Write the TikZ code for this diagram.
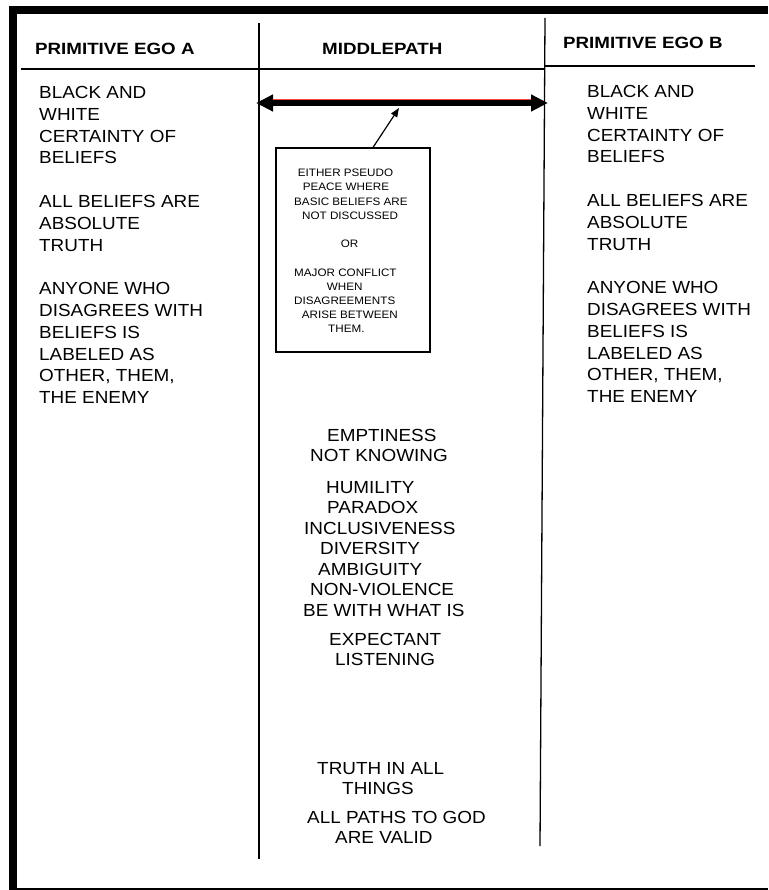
\documentclass[tikz,border=0pt]{standalone}
\usepackage{fontspec}
\usetikzlibrary{arrows.meta}
\newfontfamily\bodyfont{Liberation Sans}[FakeStretch=1.08]
\newfontfamily\headfont{Liberation Sans}[FakeStretch=1.15]
\begin{document}
\begin{tikzpicture}[x=1pt,y=-1pt]
\tikzset{
  colhead/.style={font=\headfont\bfseries\fontsize{16.3}{19}\selectfont, anchor=base west, inner sep=0pt},
  coltext/.style={font=\bodyfont\fontsize{17.5}{21.8}\selectfont, align=left, anchor=north west, inner sep=0pt},
  midtext/.style={font=\bodyfont\fontsize{17.5}{20.5}\selectfont, align=left, anchor=north west, inner sep=0pt},
  boxtext/.style={font=\bodyfont\fontsize{10.8}{14.2}\selectfont, align=left, anchor=north west, inner sep=0pt},
  rule/.style={line width=1.3pt},
  bigarrow/.style={line width=6pt, line join=round, {Triangle[length=17pt,width=16pt]}-{Triangle[length=17pt,width=16pt]}},
  smallarrow/.style={line width=1.2pt, -{Triangle[length=9pt,width=7pt]}},
  notebox/.style={draw, line width=1.1pt, minimum width=154pt, minimum height=204pt, inner sep=0pt},
}
\useasboundingbox (0,0) rectangle (768,890);
\fill[white] (0,0) rectangle (768,890);

% page frame: heavy top and left edges, thin bottom edge
\fill[black] (9,6) rectangle (768,14);
\fill[black] (9,6) rectangle (17,890);
\draw[line width=2pt] (17,888.5) -- (768,888.5);

% column rules
\draw[rule] (21,69) -- (544,69);
\draw[rule] (544,66) -- (755,66);
\draw[rule] (259,23) -- (259,859);
\draw[rule] (545,18) -- (540,846);

% headings
\node[colhead] (hA) at (35,55) {PRIMITIVE EGO A};
\node[colhead] (hM) at (322,55) {MIDDLEPATH};
\node[colhead] (hB) at (563,49) {PRIMITIVE EGO B};

% side columns
\node[coltext] (egoA) at (39,86) {BLACK AND\\WHITE\\CERTAINTY OF\\BELIEFS\\[21.8pt]ALL BELIEFS ARE\\ABSOLUTE\\TRUTH\\[21.8pt]ANYONE WHO\\DISAGREES WITH\\BELIEFS IS\\LABELED AS\\OTHER, THEM,\\THE ENEMY};
\node[coltext] (egoB) at (587,85) {BLACK AND\\WHITE\\CERTAINTY OF\\BELIEFS\\[21.8pt]ALL BELIEFS ARE\\ABSOLUTE\\TRUTH\\[21.8pt]ANYONE WHO\\DISAGREES WITH\\BELIEFS IS\\LABELED AS\\OTHER, THEM,\\THE ENEMY};

% double arrow spanning the middle path
\coordinate (aL) at (256,103);
\coordinate (aR) at (548,103);
\draw[bigarrow] (aL) -- (aR);
\draw[red!75, line width=0.7pt] (273,99.8) -- (531,99.8);

% note box with its pointer
\node[notebox] (box) at (353,250) {};
\coordinate (tip) at (399,108);
\draw[smallarrow] ([xshift=20pt]box.north) -- (tip);
\node[boxtext] (boxtxt) at (294,169) {\hspace*{3.7pt}EITHER PSEUDO\\\hspace*{8.7pt}PEACE WHERE\\BASIC BELIEFS ARE\\\hspace*{8pt}NOT DISCUSSED\\[14.2pt]\hspace*{46.7pt}OR\\[14.2pt]MAJOR CONFLICT\\\hspace*{32.7pt}WHEN\\DISAGREEMENTS\\\hspace*{7.7pt}ARISE BETWEEN\\\hspace*{34pt}THEM.};

% middle path
\node[midtext] (m1) at (303,429) {\hspace*{24pt}EMPTINESS\\\hspace*{7pt}NOT KNOWING};
\node[midtext] (m2) at (303,481) {\hspace*{23pt}HUMILITY\\\hspace*{24pt}PARADOX\\\hspace*{1pt}INCLUSIVENESS\\\hspace*{17pt}DIVERSITY\\\hspace*{15pt}AMBIGUITY\\\hspace*{7pt}NON-VIOLENCE\\BE WITH WHAT IS};
\node[midtext] (m3) at (303,633) {\hspace*{26pt}EXPECTANT\\\hspace*{32pt}LISTENING};
\node[midtext] (m4) at (303,762) {\hspace*{14pt}TRUTH IN ALL\\\hspace*{39pt}THINGS};
\node[midtext] (m5) at (303,811) {\hspace*{4pt}ALL PATHS TO GOD\\\hspace*{32pt}ARE VALID};
\end{tikzpicture}
\end{document}
